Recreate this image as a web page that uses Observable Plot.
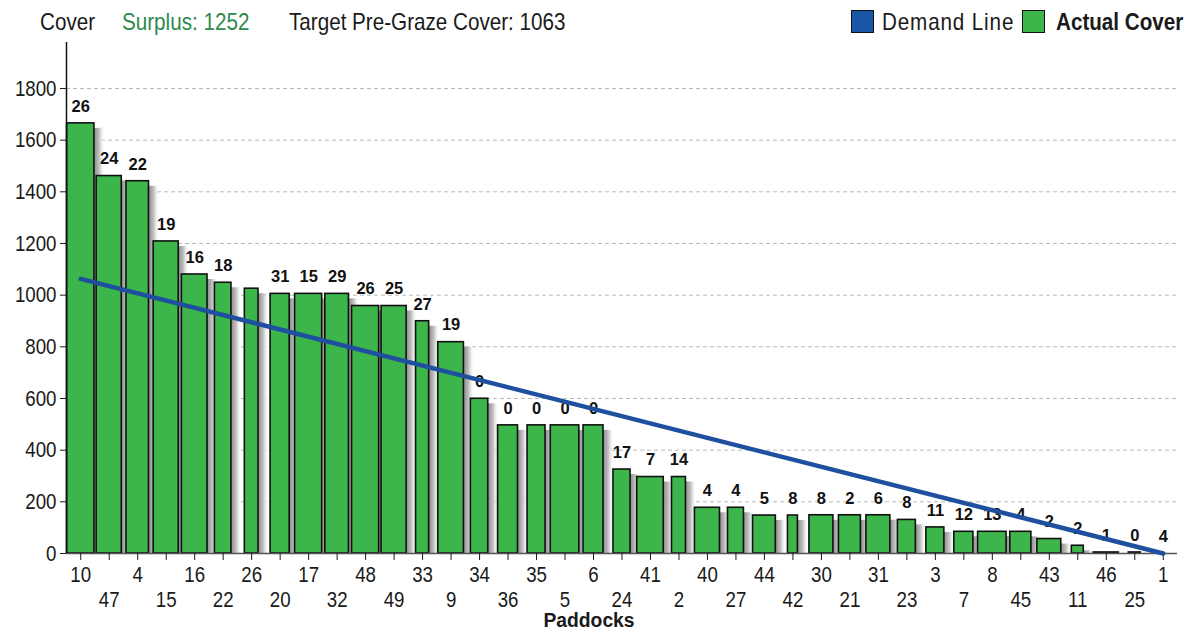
<!DOCTYPE html>
<html><head><meta charset="utf-8">
<script src="https://cdn.jsdelivr.net/npm/d3@7"></script>
<script src="https://cdn.jsdelivr.net/npm/@observablehq/plot@0.6"></script>
<style>
body{margin:0;background:#fff;}
#wrap{position:relative;width:1187px;height:630px;overflow:hidden;background:#fff;}
.hd{position:absolute;top:9px;font-family:"Liberation Sans",Arial,sans-serif;font-size:24px;line-height:26px;color:#1a1a1a;white-space:nowrap;transform:scaleX(0.86);transform-origin:0 50%;}
.sw{position:absolute;top:10px;width:21px;height:21px;border:1.5px solid #111;}
</style></head><body>
<div id="wrap">
  <div id="chart"></div>
  <div class="hd" style="left:40px">Cover</div>
  <div class="hd" style="left:122px;color:#2b8a4e">Surplus: 1252</div>
  <div class="hd" style="left:289px">Target Pre-Graze Cover: 1063</div>
  <div class="sw" style="left:851px;background:#1b55a5"></div>
  <div class="hd" style="left:882px;letter-spacing:1px">Demand Line</div>
  <div class="sw" style="left:1022px;background:#3cb54a"></div>
  <div class="hd" style="left:1056px;font-weight:bold">Actual Cover</div>
</div>
<script>
// Paddocks in chart order
const paddocks = ["10","47","4","15","16","22","26","20","17","32","48","49","33","9","34","36","35","5","6","24","41","2","40","27","44","42","30","21","31","23","3","7","8","45","43","11","46","25","1"];
// Actual cover (kg DM/ha)
const cover = [1665,1461,1441,1208,1080,1048,1025,1005,1005,1005,958,958,899,818,599,496,496,496,496,325,296,296,177,177,147,147,148,148,148,130,101,84,84,84,56,30,4,4,0];
// Relative bar widths (paddock area, fraction of slot)
const widths = [0.96,0.88,0.79,0.88,0.9,0.58,0.48,0.67,0.95,0.83,0.95,0.88,0.46,0.9,0.61,0.7,0.63,1.0,0.7,0.6,0.93,0.49,0.88,0.56,0.8,0.35,0.84,0.77,0.84,0.63,0.63,0.67,1.0,0.74,0.84,0.42,0.88,0.42,0.4];
// Numbers above bars
const barLabels = [26,24,22,19,16,18,null,31,15,29,26,25,27,19,0,0,0,0,0,17,7,14,4,4,5,8,8,2,6,8,11,12,13,4,2,2,1,0,4];
// Demand line endpoints
const demandPaddocks = ["10","1"];
const demandValues = [1063,0];
const yTicks = [0,200,400,600,800,1000,1200,1400,1600,1800];

const data = paddocks.map((p,i)=>({i, p, cover: cover[i], w: widths[i], lab: barLabels[i]}));
const demand = demandPaddocks.map((p,k)=>({i: paddocks.indexOf(p), v: demandValues[k]}));
const idx = paddocks.map((p,i)=>i);
const even = idx.filter(i=>i%2===0), odd = idx.filter(i=>i%2===1);

const font = '"Liberation Sans",Arial,sans-serif';
const chart = Plot.plot({
  width:1187, height:630, marginLeft:66, marginRight:10, marginTop:42, marginBottom:77,
  style:{fontFamily:font, background:"#fff", color:"#1a1a1a"},
  x:{domain:[-0.5, paddocks.length-0.5], axis:null},
  y:{domain:[0,1978], axis:null},
  marks:[
    Plot.gridY(yTicks.filter(d=>d>0), {stroke:"#b8b8b8", strokeOpacity:1, strokeDasharray:"4,3"}),
    Plot.rectY(data,{x1:d=>d.i+d.w/2, x2:d=>d.i+d.w/2+0.38, y1:0, y2:"cover", insetTop:5, fill:"url(#shadowGrad)"}),
    Plot.rectY(data,{x1:d=>d.i-d.w/2, x2:d=>d.i+d.w/2, y1:0, y2:"cover", fill:"#3cb54a", stroke:"#111", strokeWidth:1.6}),
    Plot.ruleY([0],{stroke:"#555", strokeWidth:1.5}),
    Plot.ruleX([-0.5],{stroke:"#111", strokeWidth:1.5}),
    Plot.axisY({ticks:yTicks, tickSize:6, tickPadding:4, fontSize:22, label:null, tickFormat:d=>String(d)}),
    Plot.axisX({ticks:even, tickSize:7, tickPadding:6, fontSize:22, label:null, tickFormat:i=>paddocks[i]}),
    Plot.axisX({ticks:odd, tickSize:7, tickPadding:31, fontSize:22, label:null, tickFormat:i=>paddocks[i]}),
    Plot.text(data.filter(d=>d.lab!=null), {x:"i", y:"cover", text:d=>String(d.lab), dy:-17, lineAnchor:"middle", fontWeight:"bold", fontSize:16.5, fill:"#111"}),
    Plot.line(demand,{x:"i", y:"v", stroke:"#1f4f9f", strokeWidth:4.5, strokeLinecap:"round"}),
    Plot.text(["Paddocks"], {frameAnchor:"bottom", dx:-33, dy:67, lineAnchor:"middle", fontWeight:"bold", fontSize:21, fill:"#1a1a1a"})
  ]
});
const ns = "http://www.w3.org/2000/svg";
const defs = document.createElementNS(ns,"defs");
defs.innerHTML = '<linearGradient id="shadowGrad" x1="0" x2="1" y1="0" y2="0"><stop offset="0" stop-color="#8a8a8a"/><stop offset="0.5" stop-color="#c4c4c4"/><stop offset="1" stop-color="#ffffff" stop-opacity="0"/></linearGradient>';
chart.insertBefore(defs, chart.firstChild);

function squeeze(nodes, s){
  nodes.forEach(t=>{
    const tr = t.getAttribute("transform");
    if (tr) t.setAttribute("transform", tr + ` scale(${s},1)`);
    else {
      const x = +t.getAttribute("x")||0, y = +t.getAttribute("y")||0;
      t.removeAttribute("x"); t.removeAttribute("y");
      t.setAttribute("transform", `translate(${x},${y}) scale(${s},1)`);
    }
  });
}
squeeze(chart.querySelectorAll('g[aria-label="y-axis tick label"] text, g[aria-label="x-axis tick label"] text'), 0.85);
const textGroups = chart.querySelectorAll('g[aria-label="text"]');
squeeze(textGroups[textGroups.length-1].querySelectorAll("text"), 0.92);
document.getElementById("chart").appendChild(chart);
</script>
</body></html>
